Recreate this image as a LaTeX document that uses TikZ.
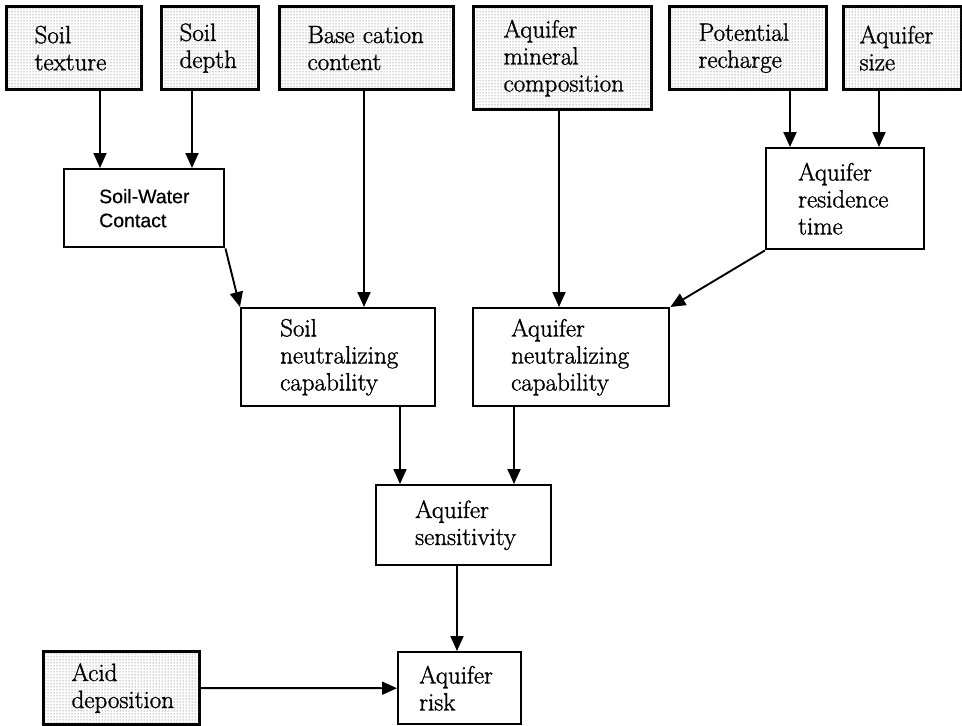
\documentclass[tikz,border=0pt]{standalone}
\usepackage{fontspec}
\setmainfont{Latin Modern Roman}[FakeBold=1.2]
\setsansfont{Liberation Sans}[FakeBold=0.6]
\usetikzlibrary{arrows.meta,patterns}
\tikzset{
  box/.style={draw, line width=2.4pt, rectangle, anchor=north west, align=left,
    font=\fontsize{25}{27}\selectfont, inner ysep=0pt},
  shaded/.style={box, line width=3.2pt, fill=white, postaction={pattern=dots, pattern color=black!70}},
  arr/.style={line width=1.9pt, -{Triangle[length=15pt,width=13pt]}},
}
\begin{document}
\begin{tikzpicture}[x=1pt,y=-1pt]
\useasboundingbox (0,0) rectangle (962,726);
% top row
\node[shaded, minimum width=135pt, minimum height=83pt, text width=79pt, inner xsep=28pt] (tex) at (5,5) {Soil\\texture};
\node[shaded, minimum width=97pt, minimum height=83pt, text width=61pt, inner xsep=18pt] (dep) at (160,5) {Soil\\depth};
\node[shaded, minimum width=174pt, minimum height=83pt, text width=118pt, inner xsep=28pt] (bas) at (278,5) {Base~cation\\content};
\node[shaded, minimum width=178pt, minimum height=103pt, text width=118pt, inner xsep=30pt] (mic) at (472,5) {Aquifer\\mineral\\composition};
\node[shaded, minimum width=157pt, minimum height=83pt, text width=99pt, inner xsep=29pt] (pot) at (668,5) {Potential\\recharge};
\node[shaded, minimum width=118pt, minimum height=83pt, text width=86pt, inner xsep=16pt] (siz) at (842,5) {Aquifer\\size};
% second level
\node[box, minimum width=160pt, minimum height=78pt, text width=90pt, inner xsep=35pt,
  font=\sffamily\fontsize{19.5}{24}\selectfont] (swc) at (63,168) {\mbox{Soil-Water}\\Contact};
\node[box, minimum width=158pt, minimum height=101pt, text width=94pt, inner xsep=32pt] (art) at (765,147) {Aquifer\\residence\\time};
% third level
\node[box, minimum width=194pt, minimum height=98pt, text width=116pt, inner xsep=39pt] (snc) at (240,307) {Soil\\neutralizing\\capability};
\node[box, minimum width=196pt, minimum height=98pt, text width=120pt, inner xsep=38pt] (anc) at (472,307) {Aquifer\\neutralizing\\capability};
% fourth
\node[box, minimum width=175pt, minimum height=80pt, text width=97pt, inner xsep=39pt] (sen) at (375,484) {Aquifer\\sensitivity};
% bottom
\node[shaded, minimum width=156pt, minimum height=73pt, text width=100pt, inner xsep=28pt] (acd) at (42,650) {Acid\\deposition};
\node[box, minimum width=123pt, minimum height=72pt, text width=81pt, inner xsep=21pt] (ris) at (397,651) {Aquifer\\risk};
% connectors
\draw[arr] ([xshift=95pt]tex.south west) -- ([xshift=37pt]swc.north west);
\draw[arr] ([xshift=32pt]dep.south west) -- ([xshift=129pt]swc.north west);
\draw[arr] (swc.south east) -- (snc.north west);
\draw[arr] ([xshift=86pt]bas.south west) -- ([xshift=124pt]snc.north west);
\draw[arr] ([xshift=87pt]mic.south west) -- ([xshift=87pt]anc.north west);
\draw[arr] ([xshift=122pt]pot.south west) -- ([xshift=25pt]art.north west);
\draw[arr] ([xshift=37pt]siz.south west) -- ([xshift=114pt]art.north west);
\draw[arr] (art.south west) -- (anc.north east);
\draw[arr] ([xshift=160pt]snc.south west) -- ([xshift=25pt]sen.north west);
\draw[arr] ([xshift=42pt]anc.south west) -- ([xshift=139pt]sen.north west);
\draw[arr] ([xshift=82pt]sen.south west) -- ([xshift=60pt]ris.north west);
\draw[arr] (acd.east) -- (ris.west);
\end{tikzpicture}
\end{document}
